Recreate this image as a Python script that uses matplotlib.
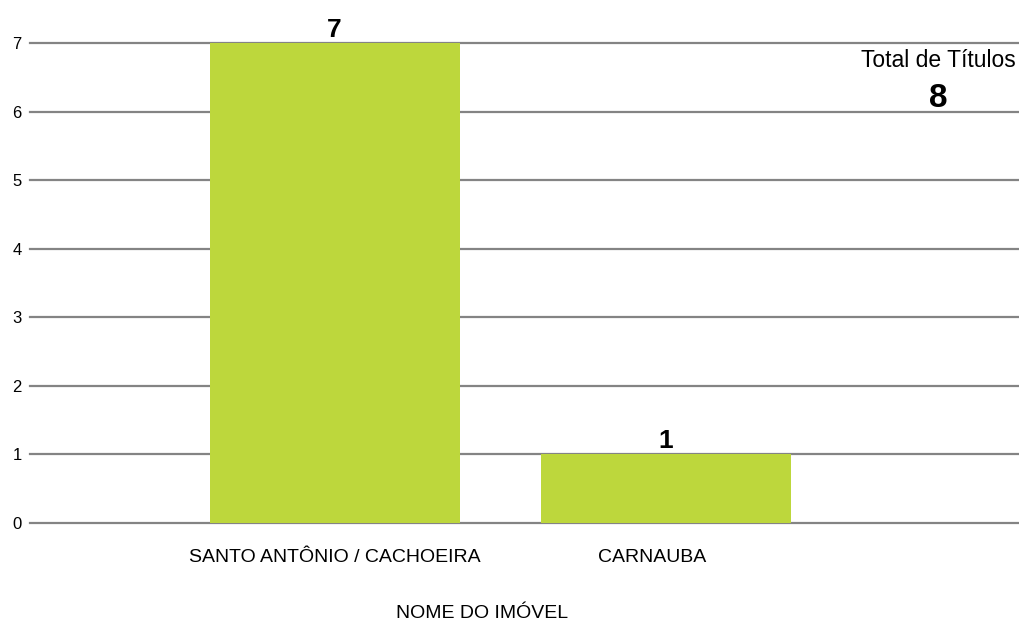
import matplotlib.pyplot as plt
import matplotlib.transforms as mtransforms

# dados do gráfico
imoveis = ['SANTO ANTÔNIO / CACHOEIRA', 'CARNAUBA']
titulos = [7, 1]
total_titulos = 8

verde = '#bdd73c'
cinza = '#848484'
fonte = ['Liberation Sans', 'DejaVu Sans']

fig = plt.figure(figsize=(10.2, 6.23), dpi=100)
ax = fig.add_axes([0.0294, 0.1605, 0.9706, 0.7705])

pos = list(range(len(imoveis)))
barras = ax.bar(pos, titulos, width=0.755, color=verde, zorder=3)

ax.set_xlim(-0.92, 2.07)
ax.set_ylim(0, 7)
ax.set_yticks(range(0, 8))
ax.yaxis.grid(True, color=cinza, linewidth=1.6, zorder=1)
for gl in ax.get_ygridlines():
    gl.set_clip_on(False)
ax.set_axisbelow(True)
for s in ax.spines.values():
    s.set_visible(False)
ax.tick_params(axis='y', length=0, pad=6, labelsize=12)
ax.tick_params(axis='x', length=0, pad=18.5)
for lab in ax.get_yticklabels():
    lab.set_family(fonte)

ax.set_xticks(pos)
ax.set_xticklabels(imoveis, family=fonte, fontsize=14)
# o rótulo de CARNAUBA fica um pouco à esquerda do centro da barra
desloc = mtransforms.ScaledTranslation(-14 / 100, 0, fig.dpi_scale_trans)
lab2 = ax.get_xticklabels()[1]
lab2.set_transform(lab2.get_transform() + desloc)

# valores em cima das barras
for b, v in zip(barras, titulos):
    ax.annotate(str(v), (b.get_x() + b.get_width() / 2, v), xytext=(0, 4.5),
                textcoords='offset points', ha='center', va='baseline',
                fontsize=19, fontweight='bold', family=fonte,
                annotation_clip=False)

fig.text(482 / 1020, 1 - 614 / 623, 'NOME DO IMÓVEL', ha='center', va='center',
         fontsize=14, family=fonte)

fig.text(938 / 1020, 1 - 67 / 623, 'Total de Títulos', ha='center', va='baseline',
         fontsize=16.5, family=fonte)
fig.text(938 / 1020, 1 - 107 / 623, str(total_titulos), ha='center', va='baseline',
         fontsize=24, fontweight='bold', family=fonte)

fig.savefig('out.png', dpi=100)
